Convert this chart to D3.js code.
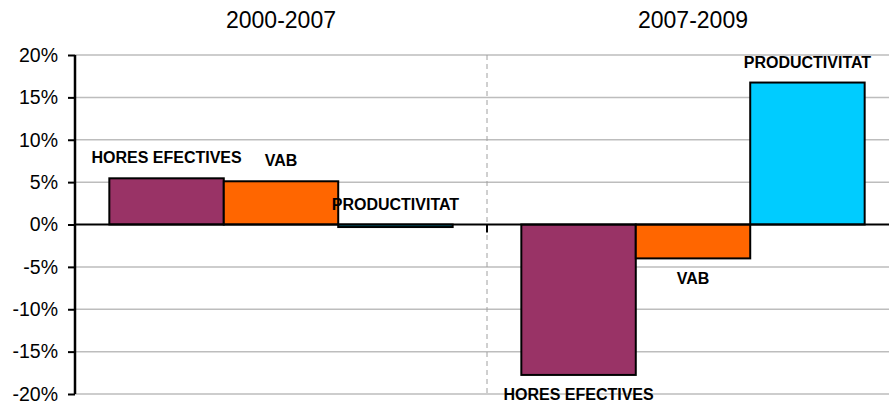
<!DOCTYPE html>
<html>
<head>
<meta charset="utf-8">
<script src="https://cdn.jsdelivr.net/npm/d3@7"></script>
<style>
  html, body { margin: 0; padding: 0; background: #fff; }
  svg { display: block; font-family: "Liberation Sans", Arial, sans-serif; }
</style>
</head>
<body>
<div id="chart"></div>
<script>
// periods and series
const periods = ['2000-2007', '2007-2009'];
const series = ['HORES EFECTIVES', 'VAB', 'PRODUCTIVITAT'];
const colors = ['#993366', '#FF6600', '#00CCFF'];

// % change per period, one array per series
const horesEfectives = [5.45, -17.75];
const vab = [5.1, -4.0];
const productivitat = [-0.3, 16.75];

const yTicks = [-20, -15, -10, -5, 0, 5, 10, 15, 20];

const values = [horesEfectives, vab, productivitat];
const rows = [];
periods.forEach((p, i) => {
  series.forEach((s, j) => {
    rows.push({ period: p, series: s, value: values[j][i], color: colors[j] });
  });
});

const width = 889, height = 406;
const plotLeft = 75, plotRight = 899, plotTop = 55, plotBottom = 394;

const svg = d3.select('#chart').append('svg')
  .attr('width', width)
  .attr('height', height);

const y = d3.scaleLinear().domain([-20, 20]).range([plotBottom, plotTop]);
const x0 = d3.scaleBand().domain(periods).range([plotLeft, plotRight]).padding(0);
const x1 = d3.scaleBand().domain(series).range([0, x0.bandwidth()])
  .paddingInner(0).paddingOuter(0.3);

// gridlines
svg.append('g')
  .selectAll('line')
  .data(yTicks.filter(t => t !== 0))
  .join('line')
  .attr('x1', plotLeft).attr('x2', plotRight)
  .attr('y1', d => y(d)).attr('y2', d => y(d))
  .attr('stroke', '#bdbdbd')
  .attr('stroke-width', 1.5);

// dashed divider between periods
svg.append('line')
  .attr('x1', x0(periods[1])).attr('x2', x0(periods[1]))
  .attr('y1', y(20)).attr('y2', y(-20))
  .attr('stroke', '#a0a0a0')
  .attr('stroke-width', 1)
  .attr('stroke-dasharray', '5,4');

// bars
svg.append('g')
  .selectAll('rect')
  .data(rows)
  .join('rect')
  .attr('x', d => x0(d.period) + x1(d.series))
  .attr('width', x1.bandwidth())
  .attr('y', d => y(Math.max(0, d.value)))
  .attr('height', d => Math.abs(y(d.value) - y(0)))
  .attr('fill', d => d.color)
  .attr('stroke', '#000')
  .attr('stroke-width', 2);

// zero line + category ticks
svg.append('line')
  .attr('x1', plotLeft).attr('x2', plotRight)
  .attr('y1', y(0)).attr('y2', y(0))
  .attr('stroke', '#000')
  .attr('stroke-width', 2);

svg.append('g')
  .selectAll('line')
  .data(periods.slice(1))
  .join('line')
  .attr('x1', d => x0(d)).attr('x2', d => x0(d))
  .attr('y1', y(0)).attr('y2', y(0) + 8)
  .attr('stroke', '#000')
  .attr('stroke-width', 2);

// y axis
const yAxis = d3.axisLeft(y)
  .tickValues(yTicks)
  .tickSize(7)
  .tickPadding(10)
  .tickFormat(d => d + '%');

const ya = svg.append('g')
  .attr('transform', `translate(${plotLeft},0)`)
  .call(yAxis);
ya.select('.domain').attr('stroke', '#000').attr('stroke-width', 2.5)
  .attr('d', `M0,${y(20)}V${y(-20)}`);
ya.selectAll('.tick line').attr('stroke', '#000').attr('stroke-width', 2);
ya.selectAll('.tick text')
  .attr('fill', '#000')
  .style('font-size', '19.5px')
  .style('font-family', '"Liberation Sans", Arial, sans-serif');

// period titles
svg.append('g')
  .selectAll('text')
  .data(periods)
  .join('text')
  .attr('x', d => x0(d) + x0.bandwidth() / 2)
  .attr('y', 28)
  .attr('text-anchor', 'middle')
  .style('font-size', '23px')
  .attr('fill', '#000')
  .text(d => d);

// data labels
svg.append('g')
  .selectAll('text')
  .data(rows)
  .join('text')
  .attr('x', d => x0(d.period) + x1(d.series) + x1.bandwidth() / 2)
  .attr('y', d => d.value < -1 ? y(d.value) + 25.5 : y(Math.max(0, d.value)) - 15)
  .attr('text-anchor', 'middle')
  .style('font-size', '16px')
  .style('font-weight', 'bold')
  .attr('fill', '#000')
  .text(d => d.series);
</script>
</body>
</html>
